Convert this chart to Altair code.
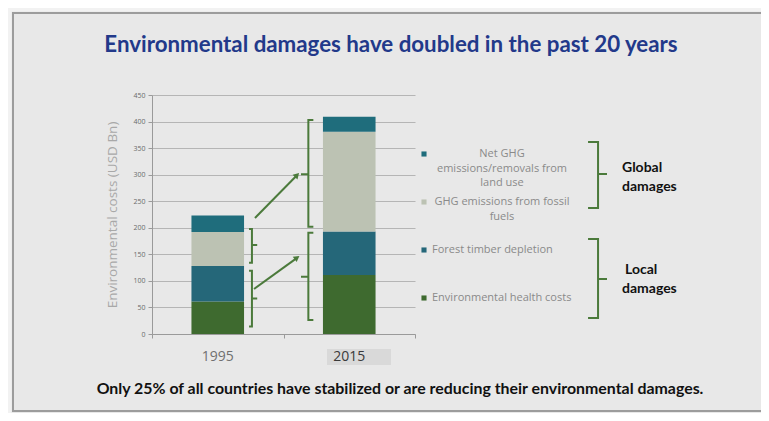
import altair as alt
import pandas as pd

# ---------------- data ----------------
years = ["1995", "2015"]
year_pos = [0.5, 1.5]
categories = [
    "Environmental health costs",
    "Forest timber depletion",
    "GHG emissions from fossil fuels",
    "Net GHG emissions/removals from land use",
]
vals_1995 = [61, 67, 64, 31]
vals_2015 = [111, 82, 188, 28]
colors = ["#3e6a2f", "#256779", "#bcc2b3", "#1f6d7c"]
y_ticks = [0, 50, 100, 150, 200, 250, 300, 350, 400, 450]

title_text = "Environmental damages have doubled in the past 20 years"
foot_text = "Only 25% of all countries have stabilized or are reducing their environmental damages."

legend_lines = {
    "Net GHG emissions/removals from land use": ["Net GHG", "emissions/removals from", "land use"],
    "GHG emissions from fossil fuels": ["GHG emissions from fossil", "fuels"],
    "Forest timber depletion": ["Forest timber depletion"],
    "Environmental health costs": ["Environmental health costs"],
}
legend_order = [
    "Net GHG emissions/removals from land use",
    "GHG emissions from fossil fuels",
    "Forest timber depletion",
    "Environmental health costs",
]

# brackets (data units): name, vertical x, hook x, tip x, top, mid, bottom
br_names = ["b95_hi", "b95_lo", "b15_hi", "b15_lo", "global", "local"]
br_x = [0.76, 0.76, 1.189, 1.189, 3.392, 3.392]
br_hook = [0.738, 0.738, 1.227, 1.227, 3.316, 3.316]
br_tip = [0.80, 0.80, 1.133, 1.133, 3.46, 3.46]
br_top = [197.7, 119, 403, 190.8, 361.5, 178.9]
br_mid = [167.6, 67, 300.7, 108, 301.3, 103.6]
br_bot = [134, 14, 202, 26.4, 237.2, 30.1]

# arrows (data units)
ar_x0 = [0.783, 0.776]
ar_y0 = [218.5, 84.7]
ar_x1 = [1.095, 1.095]
ar_y1 = [297.0, 142.0]
ar_head_x = [1.103, 1.103]
ar_head_y = [299.4, 143.7]
ar_angle = [44, 54]

group_labels = [["Global", "damages"], ["Local", "damages"]]

# ---------------- layout helpers ----------------
W, H = 263, 239
X_DOM, Y_DOM = [0, 2], [0, 450]


def px2x(px):
    return X_DOM[0] + px / W * (X_DOM[1] - X_DOM[0])


def py2y(py):
    return Y_DOM[0] + (H - py) / H * (Y_DOM[1] - Y_DOM[0])


# ---------------- tables ----------------
rows = []
for yr, xp, vals in zip(years, year_pos, [vals_1995, vals_2015]):
    base = 0
    for cat, v in zip(categories, vals):
        rows.append({"year": yr, "x0": xp - 0.2, "x1": xp + 0.2, "cat": cat,
                     "start": base, "end": base + v, "value": v})
        base += v
bars_df = pd.DataFrame(rows)

br_rows = []
for n, xv, xh, xt, t, m, b in zip(br_names, br_x, br_hook, br_tip, br_top, br_mid, br_bot):
    pts = [(xh, t), (xv, t), (xv, m), (xt, m), (xv, m), (xv, b), (xh, b)]
    for i, (px, py) in enumerate(pts):
        br_rows.append({"name": n, "i": i, "x": px, "y": py})
br_df = pd.DataFrame(br_rows)

ar_rows = []
for k in range(len(ar_x0)):
    ar_rows.append({"a": k, "i": 0, "x": ar_x0[k], "y": ar_y0[k]})
    ar_rows.append({"a": k, "i": 1, "x": ar_x1[k], "y": ar_y1[k]})
ar_df = pd.DataFrame(ar_rows)
head_df = pd.DataFrame({"x": ar_head_x, "y": ar_head_y, "ang": ar_angle})

xscale = alt.Scale(domain=X_DOM, nice=False, zero=False)
yscale = alt.Scale(domain=Y_DOM, nice=False)
GREEN = "#4b7a3b"

AX_X = alt.Axis(values=[0, 1, 2], labels=False, title=None, grid=False,
                ticks=True, tickSize=4, tickColor="#9a9a9a", domainColor="#9a9a9a")
AX_Y = alt.Axis(values=y_ticks, title="Environmental costs (USD Bn)",
                labelOverlap=False, labelFlush=False,
                grid=True, gridColor="#b5b5b5", tickSize=4, tickColor="#9a9a9a",
                domainColor="#9a9a9a", labelFont="Open Sans", labelFontSize=7,
                labelColor="#6a6a6a", labelPadding=3,
                titleFont="Open Sans", titleFontSize=13.5, titleFontWeight="normal",
                titleColor="#a8a8a8", titlePadding=13)


def X(field):
    return alt.X(field, scale=xscale, axis=AX_X)


def Y(field):
    return alt.Y(field, scale=yscale, axis=AX_Y)


one = pd.DataFrame({"k": [0]})

# slide frame (no fill, so the axes stay visible)
outer = alt.Chart(one).mark_rect(fill="transparent", stroke="#f2f2f2", strokeWidth=7).encode(
    x=alt.value(-144), x2=alt.value(620), y=alt.value(-87), y2=alt.value(330)
)
frame = alt.Chart(one).mark_rect(fill="transparent", stroke="#9c9c9c", strokeWidth=2).encode(
    x=alt.value(-139), x2=alt.value(640), y=alt.value(-82), y2=alt.value(316)
)

# 2015 highlight box behind label
hl = alt.Chart(one).mark_rect(fill="#d9d9d9").encode(
    x=alt.value(175), x2=alt.value(239), y=alt.value(254), y2=alt.value(270)
)

bars = alt.Chart(bars_df).mark_rect().encode(
    x=X("x0:Q"), x2="x1:Q",
    y=Y("start:Q"), y2="end:Q",
    color=alt.Color("cat:N", scale=alt.Scale(domain=categories, range=colors), legend=None),
)

year_df = pd.DataFrame({"year": years, "x": year_pos, "col": ["#707070", "#3a3a3a"]})
year_text = alt.Chart(year_df).mark_text(font="Open Sans", fontSize=14, baseline="middle").encode(
    x=X("x:Q"), y=alt.value(262), text="year:N",
    color=alt.Color("col:N", scale=None),
)

brackets = alt.Chart(br_df).mark_line(color=GREEN, strokeWidth=2, clip=False).encode(
    x=X("x:Q"), y=Y("y:Q"), detail="name:N", order="i:Q"
)
arrows = alt.Chart(ar_df).mark_line(color=GREEN, strokeWidth=2, clip=False).encode(
    x=X("x:Q"), y=Y("y:Q"), detail="a:N", order="i:Q"
)
heads = alt.Chart(head_df).mark_point(shape="triangle-up", filled=True, color=GREEN,
                                      size=45, opacity=1, clip=False).encode(
    x=X("x:Q"), y=Y("y:Q"),
    angle=alt.Angle("ang:Q", scale=None),
)

# manual legend (pixel layout converted through the scales)
LX, LY0, STEP, LH = 272, 59, 48, 14.5
sq_rows, txt_c, txt_l = [], [], []
for i, cat in enumerate(legend_order):
    y = LY0 + i * STEP
    sq_rows.append({"cat": cat, "x": px2x(LX), "y": py2y(y)})
    lines = legend_lines[cat]
    if len(lines) > 1:
        for j, ln in enumerate(lines):
            txt_c.append({"t": ln, "x": px2x(350), "y": py2y(y + j * LH)})
    else:
        txt_l.append({"t": lines[0], "x": px2x(LX + 8), "y": py2y(y)})
leg_sq = alt.Chart(pd.DataFrame(sq_rows)).mark_square(size=26, opacity=1, clip=False).encode(
    x=X("x:Q"), y=Y("y:Q"),
    color=alt.Color("cat:N", scale=alt.Scale(domain=categories,
                                             range=["#3f6e32", "#2a6a7a", "#c4c4c4", "#2a6a7a"]),
                    legend=None),
)
leg_tc = alt.Chart(pd.DataFrame(txt_c)).mark_text(
    font="Open Sans", fontSize=11, color="#8a8a8a", align="center", baseline="middle"
).encode(x=X("x:Q"), y=Y("y:Q"), text="t:N")
leg_tl = alt.Chart(pd.DataFrame(txt_l)).mark_text(
    font="Open Sans", fontSize=11, color="#8a8a8a", align="left", baseline="middle"
).encode(x=X("x:Q"), y=Y("y:Q"), text="t:N")

grp_rows = []
for k, (lines, gx, gy) in enumerate(zip(group_labels, [470, 473], [73, 175])):
    for j, ln in enumerate(lines):
        grp_rows.append({"t": ln, "x": px2x(gx if j == 0 else 470), "y": py2y(gy + j * 19)})
grp = alt.Chart(pd.DataFrame(grp_rows)).mark_text(
    font="Lato", fontSize=14, fontWeight="bold", color="#111111", align="left", baseline="middle"
).encode(x=X("x:Q"), y=Y("y:Q"), text="t:N")

title = alt.Chart(pd.DataFrame({"t": [title_text]})).mark_text(
    font="Lato", fontSize=22.3, fontWeight="bold", color="#22398a", align="center", baseline="middle"
).encode(x=alt.value(239), y=alt.value(-50), text="t:N")

foot = alt.Chart(pd.DataFrame({"t": [foot_text]})).mark_text(
    font="Lato", fontSize=15.9, fontWeight="bold", color="#111111", align="center", baseline="middle"
).encode(x=alt.value(248), y=alt.value(294), text="t:N")

chart = alt.layer(
    hl, bars, year_text, brackets, arrows, heads, leg_sq, leg_tc, leg_tl, grp, title, foot,
    outer, frame
).properties(
    width=W, height=H,
    autosize=alt.AutoSizeParams(type="none"),
    padding={"left": 144, "top": 87, "right": 346, "bottom": 79},
    background="#e8e8e8",
).configure_view(stroke=None)

chart.save("out.html", embed_options={"renderer": "svg", "actions": False})
